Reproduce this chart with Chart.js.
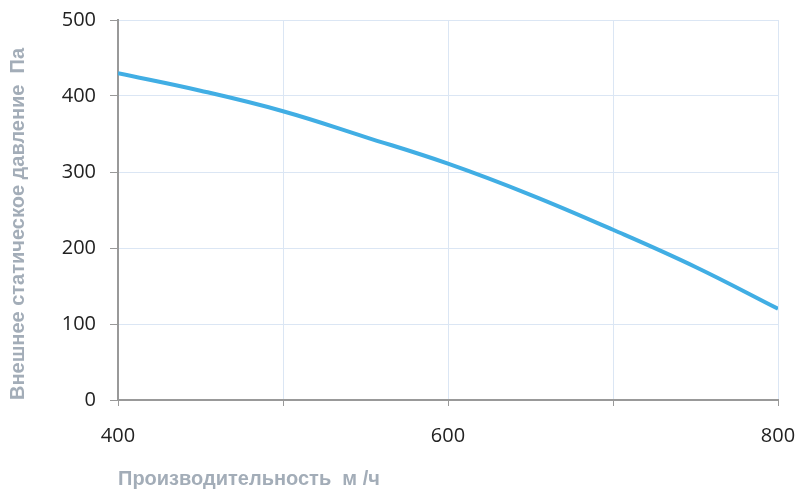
<!DOCTYPE html>
<html>
<head>
<meta charset="utf-8">
<script src="https://cdn.jsdelivr.net/npm/chart.js@4/dist/chart.umd.min.js"></script>
<style>
  html, body { margin: 0; padding: 0; background: #fff; }
  #wrap { width: 798px; height: 491px; }
</style>
</head>
<body>
<div id="wrap"><canvas id="fanChart" width="798" height="491"></canvas></div>
<script>
// airflow, m3/h
const flow = [400, 450, 500, 550, 600, 650, 700, 750, 800];
// external static pressure, Pa
const pressure = [430, 407, 380, 346, 311, 270, 224, 175, 120];
const xLabelTicks = [400, 600, 800];

const points = flow.map((f, i) => ({ x: f, y: pressure[i] }));

const tickFont = { family: 'Open Sans', size: 20 };
const titleFont = { family: 'Liberation Sans', size: 20, weight: 'bold' };

var ctx = document.getElementById('fanChart').getContext('2d');
var fanChart = new Chart(ctx, {
  type: 'line',
  data: {
    datasets: [{
      data: points,
      borderColor: '#41aee4',
      borderWidth: 4,
      pointRadius: 0,
      tension: 0.4,
      fill: false
    }]
  },
  options: {
    responsive: false,
    animation: false,
    layout: { padding: { top: 20, right: 20, left: 0, bottom: 0 } },
    plugins: { legend: { display: false }, tooltip: { enabled: false } },
    scales: {
      x: {
        type: 'linear',
        min: 400,
        max: 800,
        afterFit: s => { s.height = 91; s.paddingLeft = 0; s.paddingRight = 0; },
        ticks: {
          stepSize: 100,
          color: '#222',
          font: tickFont,
          padding: 18,
          maxRotation: 0,
          callback: v => xLabelTicks.includes(v) ? v : ''
        },
        grid: { color: '#dbe6f4', tickColor: '#999', tickLength: 6, lineWidth: 1 },
        border: { color: '#999', width: 2 },
        title: {
          display: true,
          text: 'Производительность  м /ч',
          align: 'start',
          color: '#a3adb8',
          font: titleFont,
          padding: { top: 0, bottom: 0 }
        }
      },
      y: {
        min: 0,
        max: 500,
        afterFit: s => { s.width = 118; s.paddingTop = 0; s.paddingBottom = 0; },
        ticks: { stepSize: 100, color: '#222', font: tickFont, padding: 14 },
        grid: { color: '#dbe6f4', tickColor: '#999', tickLength: 8, lineWidth: 1 },
        border: { color: '#999', width: 2 },
        title: {
          display: true,
          text: 'Внешнее статическое давление  Па',
          align: 'start',
          color: '#a3adb8',
          font: titleFont,
          padding: { top: 6, bottom: 0 }
        }
      }
    }
  }
});
</script>
</body>
</html>
